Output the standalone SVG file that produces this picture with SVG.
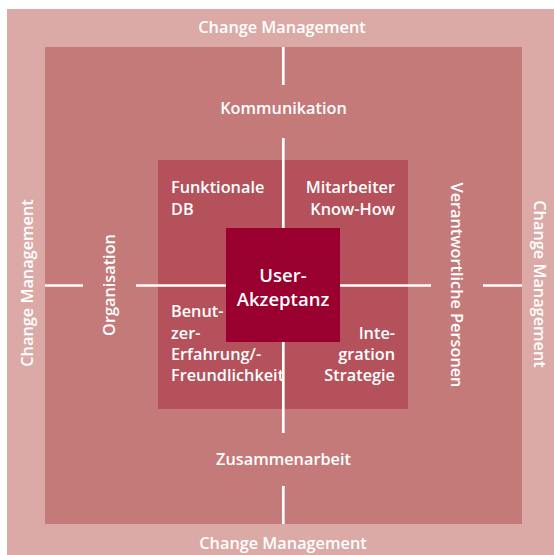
<svg xmlns="http://www.w3.org/2000/svg" width="554" height="555" viewBox="0 0 554 555">
<style>
text{font-family:"Open Sans","Noto Sans","DejaVu Sans",sans-serif;font-weight:600;fill:#ffffff;font-size:16.3px}
.c{text-anchor:middle}
.r{text-anchor:end}
.big{font-size:18.5px}
.ln{stroke:#ffffff;stroke-width:2.7;fill:none}
</style>
<rect width="554" height="555" fill="#ffffff"/>
<g id="outer">
<rect x="7" y="9" width="560" height="560" fill="#dcaaa6"/>
<text class="c" x="282" y="33">Change Management</text>
<text class="c" x="283" y="549">Change Management</text>
<text class="c" transform="translate(27,283) rotate(-90)" x="0" y="6">Change Management</text>
<text class="c" transform="translate(540,284) rotate(90)" x="0" y="6">Change Management</text>
</g>
<g id="middle">
<rect x="45" y="47" width="477" height="477" fill="#c57a7a"/>
<text class="c" x="283.5" y="114">Kommunikation</text>
<text class="c" x="283.5" y="465">Zusammenarbeit</text>
<text class="c" transform="translate(109,285) rotate(-90)" x="0" y="6">Organisation</text>
<text class="c" transform="translate(457,285) rotate(90)" x="0" y="6">Verantwortliche Personen</text>
</g>
<g id="inner">
<rect x="158" y="160" width="250" height="249" fill="#b4515a"/>
<text x="171" y="193">Funktionale</text>
<text x="171" y="215">DB</text>
<text class="r" x="395" y="193">Mitarbeiter</text>
<text class="r" x="395" y="215">Know-How</text>
<text x="171" y="317">Benut-</text>
<text x="171" y="338.5">zer-</text>
<text x="171" y="360">Erfahrung/-</text>
<text x="171" y="381">Freundlichkeit</text>
<text class="r" x="395" y="338.5">Inte-</text>
<text class="r" x="395" y="360">gration</text>
<text class="r" x="395" y="381">Strategie</text>
</g>
<g id="connectors">
<line class="ln" x1="283.3" y1="47" x2="283.3" y2="85"/>
<line class="ln" x1="283.3" y1="138" x2="283.3" y2="228"/>
<line class="ln" x1="283.3" y1="342" x2="283.3" y2="433"/>
<line class="ln" x1="283.3" y1="486" x2="283.3" y2="524"/>
<line class="ln" x1="45" y1="285.5" x2="83" y2="285.5"/>
<line class="ln" x1="136" y1="285.5" x2="226" y2="285.5"/>
<line class="ln" x1="340" y1="285.5" x2="431" y2="285.5"/>
<line class="ln" x1="483" y1="285.5" x2="522" y2="285.5"/>
</g>
<g id="center">
<rect x="226" y="228" width="114" height="114" fill="#990030"/>
<text class="c big" x="283" y="282">User-</text>
<text class="c big" x="283" y="306">Akzeptanz</text>
</g>
</svg>
